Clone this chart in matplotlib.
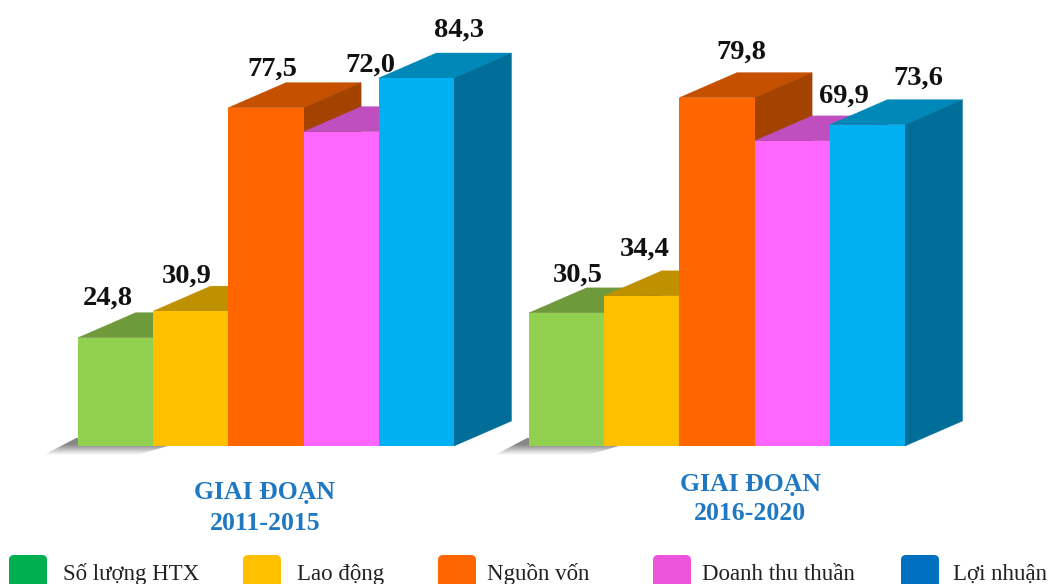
import matplotlib
matplotlib.use("Agg")
import matplotlib.pyplot as plt
import numpy as np
from matplotlib.patches import Polygon, FancyBboxPatch

W, H = 1055, 584

# values
periods = ["GIAI ĐOẠN\n2011-2015", "GIAI ĐOẠN\n2016-2020"]
series = ["Số lượng HTX", "Lao động", "Nguồn vốn", "Doanh thu thuần", "Lợi nhuận"]
values_2011 = [24.8, 30.9, 77.5, 72.0, 84.3]
values_2016 = [30.5, 34.4, 79.8, 69.9, 73.6]

front_colors = ["#92D050", "#FFC000", "#FF6600", "#FF66FF", "#00B0F0"]
top_colors = ["#6F9A3C", "#BF9000", "#C45000", "#BF4FBF", "#0088B8"]
side_colors = ["#557A2E", "#967000", "#A44200", "#994099", "#006E99"]
legend_colors = ["#00B050", "#FFC000", "#FF6600", "#EE55DD", "#0070C0"]

# layout in pixels
group_left = [78, 529]
bar_w = 75.2
depth_x = 57.5
depth_y = 25
base_y = 446
unit = 4.365  # pixels for one value unit

label_pos = [
    [(108, 298), (187, 276), (272, 69), (370, 65), (459, 30)],
    [(578, 275), (645, 249), (741, 52), (844, 96), (918, 78)],
]
title_pos = [(265, 492, 523), (750, 484, 514)]
legend_x = [(9, 63), (243, 297), (438, 487), (653, 702), (901, 953)]

fig = plt.figure(figsize=(W / 100, H / 100), dpi=100)

# pixel axes for shadows, texts and legend
pax = fig.add_axes([0, 0, 1, 1], zorder=1)
pax.axis("off")

# value axes for the bars, same x as the pixels
ax = fig.add_axes([0, 0, 1, 1], zorder=2)
ax.set_xlim(0, W)
ax.set_ylim(-(H - base_y) / unit, base_y / unit)
ax.axis("off")
ax.patch.set_alpha(0)


def shadow(left):
    # gray gradient under the first bars, fades downwards
    ys = np.linspace(0, 1, 20)
    rgba = np.zeros((20, 1, 4))
    rgba[:, 0, :3] = 0.38
    rgba[:, 0, 3] = np.clip(1.2 - ys * 1.25, 0, 0.75)
    im = pax.imshow(rgba, extent=(left - 36, left + 92, base_y + 10, base_y - 8),
                    aspect="auto", interpolation="bilinear", zorder=1)
    clip = Polygon([(left, base_y - 9), (left, base_y), (left + 90, base_y), (left + 55, base_y + 10),
                    (left - 36, base_y + 10)], closed=True, transform=pax.transData)
    im.set_clip_path(clip)


def bar3d(x, v, i):
    dv = depth_y / unit
    top = Polygon([(x, v), (x + depth_x, v + dv), (x + bar_w + depth_x, v + dv), (x + bar_w, v)],
                  closed=True, fc=top_colors[i], ec=top_colors[i], lw=0.3, zorder=1)
    side = Polygon([(x + bar_w, 0), (x + bar_w + depth_x, dv), (x + bar_w + depth_x, v + dv), (x + bar_w, v)],
                   closed=True, fc=side_colors[i], ec=side_colors[i], lw=0.3, zorder=1)
    ax.add_patch(top)
    ax.add_patch(side)
    ax.bar(x, v, width=bar_w, align="edge", color=front_colors[i], zorder=1)


for g, vals in enumerate([values_2011, values_2016]):
    shadow(group_left[g])
    for i, v in enumerate(vals):
        bar3d(group_left[g] + i * bar_w, v, i)
        lx, ly = label_pos[g][i]
        ax.text(lx, (base_y - ly) / unit, f"{v:.1f}".replace(".", ","), ha="center", va="center",
                family="Liberation Serif", fontweight="bold", fontsize=20.5, color="#111111", zorder=10)
    tx, ty1, ty2 = title_pos[g]
    line1, line2 = periods[g].split("\n")
    pax.text(tx, ty1, line1, ha="center", va="center", family="Liberation Serif",
             fontweight="bold", fontsize=18.5, color="#1F78C1")
    pax.text(tx, ty2, line2, ha="center", va="center", family="Liberation Serif",
             fontweight="bold", fontsize=18.5, color="#1F78C1")

# legend, the swatches are cut by the bottom edge
for i, name in enumerate(series):
    sx, tx = legend_x[i]
    pax.add_patch(FancyBboxPatch((sx + 3, 558), 32, 40, boxstyle="round,pad=3,rounding_size=5",
                                 fc=legend_colors[i], ec="none"))
    pax.text(tx, 580, name, ha="left", va="baseline", family="Liberation Serif",
             fontsize=16.5, color="#222222")

pax.set_xlim(0, W)
pax.set_ylim(H, 0)

fig.savefig("out.png", dpi=100)
